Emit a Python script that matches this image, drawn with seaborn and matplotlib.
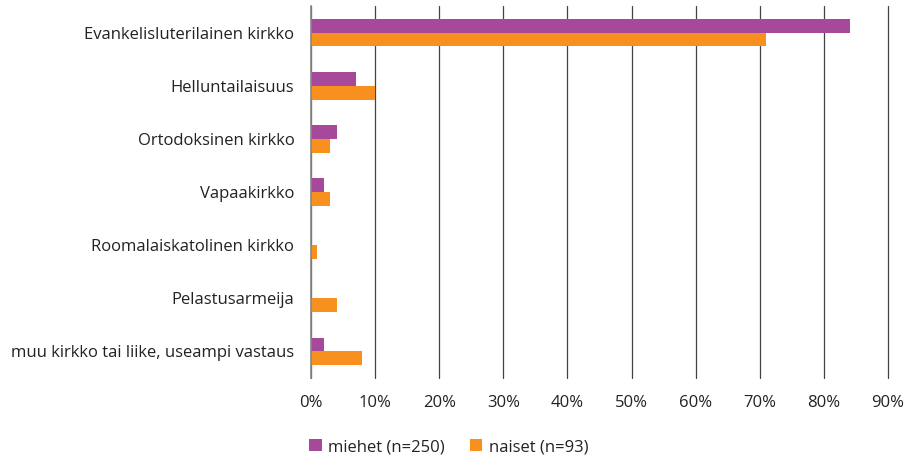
import matplotlib
matplotlib.use("Agg")
import matplotlib.pyplot as plt
import seaborn as sns
import pandas as pd
from matplotlib.patches import Patch

categories = ["Evankelisluterilainen kirkko", "Helluntailaisuus", "Ortodoksinen kirkko",
              "Vapaakirkko", "Roomalaiskatolinen kirkko", "Pelastusarmeija",
              "muu kirkko tai liike, useampi vastaus"]
series_names = ["miehet (n=250)", "naiset (n=93)"]
miehet = [84, 7, 4, 2, 0, 0, 2]
naiset = [71, 10, 3, 3, 1, 4, 8]
xticks = [0, 10, 20, 30, 40, 50, 60, 70, 80, 90]
xticklabels = [f"{v}%" for v in xticks]
colors = ["#A6499A", "#F7901E"]

df = pd.DataFrame({
    "kategoria": categories * 2,
    "sarja": [series_names[0]] * len(categories) + [series_names[1]] * len(categories),
    "arvo": miehet + naiset,
})

sns.set_style("white")
plt.rcParams["font.family"] = ["Open Sans", "DejaVu Sans"]

fig = plt.figure(figsize=(9.08, 4.61), dpi=100)
ax = fig.add_axes([311 / 908, 1 - 378 / 461, (888 - 311) / 908, (378 - 6) / 461])

sns.barplot(data=df, y="kategoria", x="arvo", hue="sarja", palette=colors,
            order=categories, hue_order=series_names, width=0.52, orient="h",
            ax=ax, legend=False, saturation=1, linewidth=0)

ax.set_xlim(0, 90)
ax.set_ylim(len(categories) - 0.5, -0.5)
ax.set_xticks(xticks)
ax.set_xticklabels(xticklabels, fontsize=12, color="#222222")
ax.tick_params(axis="y", labelsize=12, labelcolor="#222222", length=0, pad=12)
ax.tick_params(axis="x", length=0, pad=12)
ax.set_xlabel("")
ax.set_ylabel("")
ax.xaxis.grid(True, color="#444444", linewidth=0.9)
for gl in ax.get_xgridlines():
    gl.set_clip_on(False)
ax.set_axisbelow(True)
for s in ["top", "right", "bottom"]:
    ax.spines[s].set_visible(False)
ax.spines["left"].set_color("#888888")
ax.spines["left"].set_linewidth(1.2)
ax.spines["left"].set_zorder(3)

handles = [Patch(facecolor=c, edgecolor="none") for c in colors]
fig.legend(handles, series_names, loc="center left", bbox_to_anchor=(294 / 908, 1 - 447 / 461),
           ncol=2, frameon=False, fontsize=12, handlelength=0.75, handleheight=0.75,
           handletextpad=0.4, columnspacing=1.5, labelcolor="#222222")

fig.savefig("out.png", dpi=100)
